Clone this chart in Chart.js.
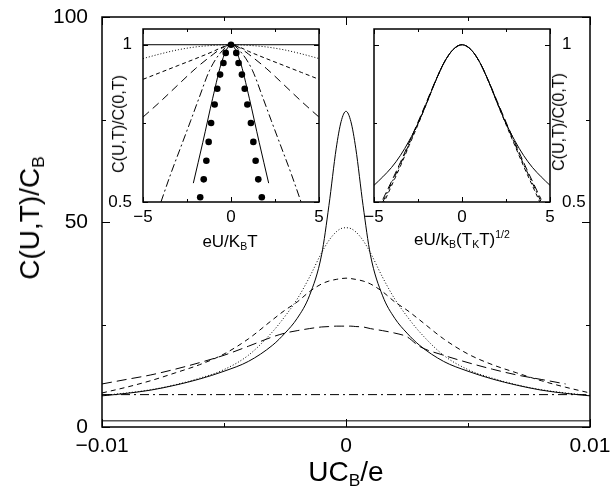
<!DOCTYPE html>
<html>
<head>
<meta charset="utf-8">
<script src="https://cdn.jsdelivr.net/npm/chart.js@4/dist/chart.umd.min.js"></script>
<style>
  body { margin: 0; background: #fff; }
  #wrap { position: relative; width: 611px; height: 493px; font-family: "Liberation Sans", Arial, sans-serif; color: #000; }
  canvas { position: absolute; }
  .lbl { position: absolute; white-space: nowrap; line-height: 1; transform: translate(-50%, -50%); }
  .rot { transform: translate(-50%, -50%) rotate(-90deg); }
  sub { font-size: 0.62em; vertical-align: -0.3em; line-height: 0; }
  sup { font-size: 0.62em; vertical-align: 0.6em; line-height: 0; }
</style>
</head>
<body>
<div id="wrap">
  <canvas id="mainChart" width="611" height="493" style="left:0;top:0"></canvas>
  <canvas id="insetLeft" width="230" height="215" style="left:100px;top:20px"></canvas>
  <canvas id="insetRight" width="240" height="215" style="left:365px;top:20px"></canvas>

  <div class="lbl rot" style="left:30px;top:218px;font-size:28px">C(U,T)/C<sub>B</sub></div>
  <div class="lbl" style="left:346px;top:472px;font-size:28px">UC<sub>B</sub>/e</div>
  <div class="lbl rot" style="left:119px;top:124px;font-size:16px">C(U,T)/C(0,T)</div>
  <div class="lbl" style="left:230px;top:241px;font-size:17px">eU/K<sub>B</sub>T</div>
  <div class="lbl rot" style="left:559px;top:122px;font-size:16px">C(U,T)/C(0,T)</div>
  <div class="lbl" style="left:462px;top:239px;font-size:17px">eU/k<sub>B</sub>(T<sub>K</sub>T)<sup>1/2</sup></div>
</div>
<script>
// main panel: bias values shared by the temperature curves
const biasGrid = [-0.01, -0.009, -0.008, -0.007, -0.006, -0.005, -0.004, -0.003, -0.0025, -0.002, -0.0015, -0.001, -0.0007, -0.0004, -0.0002, 0,
  0.0002, 0.0004, 0.0007, 0.001, 0.0015, 0.002, 0.0025, 0.003, 0.004, 0.005, 0.006, 0.007, 0.008, 0.009, 0.01];
const capSolid = [7.6, 8.2, 9.0, 10.2, 11.7, 13.6, 16, 20, 22.9, 26.5, 32, 42, 54, 68, 74.5, 77,
  74.5, 68, 54, 42, 32, 26.5, 22.9, 20, 16, 13.6, 11.7, 10.2, 9.0, 8.2, 7.6];
const capDotted = [7.7, 8.3, 9.1, 10.3, 11.9, 14, 17.5, 23.3, 27, 31.2, 36.5, 42.5, 45.5, 47.6, 48.4, 48.6,
  48.4, 47.6, 45.5, 42.5, 36.5, 31.2, 27, 23.3, 17.5, 14, 11.9, 10.3, 9.1, 8.3, 7.7];
const capShortDash = [8.3, 9.7, 11.3, 13.2, 15.2, 17.8, 21.5, 26.2, 28.5, 30.5, 33.0, 34.9, 35.6, 36.0, 36.2, 36.3,
  36.2, 36.0, 35.6, 34.9, 33.0, 30.5, 28.5, 26.2, 21.5, 17.8, 15.2, 13.2, 11.3, 9.7, 8.3];
const capLongDash = [10.5, 11.6, 12.7, 14.1, 15.7, 17.5, 19.7, 22.0, 22.9, 23.5, 24.0, 24.4, 24.5, 24.6, 24.6, 24.6,
  24.6, 24.5, 24.4, 24.0, 23.5, 22.9, 22.0, 19.7, 17.5, 15.7, 14.1, 12.7, 11.6, 10.5];
const flatBias = [-0.01, 0.01];
const capDashDot = [7.9, 7.9];
const capBase = [1.5, 1.5];
const mainXTicks = [-0.01, 0, 0.01];
const mainYTicks = [0, 50, 100];

// left inset: scaled by k_B T
const lFlatX = [-5, 5];
const lFlatY = [1, 1];
const lDotX = [-5, -4, -3, -2, -1, 0, 1, 2, 3, 4, 5];
const lDotY = [0.956, 0.971, 0.984, 0.993, 0.998, 1, 0.998, 0.993, 0.984, 0.971, 0.956];
const lShortX = [-5, -4, -3, -2, -1, -0.5, 0, 0.5, 1, 2, 3, 4, 5];
const lShortY = [0.89, 0.912, 0.934, 0.956, 0.979, 0.992, 1, 0.992, 0.979, 0.956, 0.934, 0.912, 0.89];
const lLongX = [-5, -4, -3, -2, -1, -0.5, 0, 0.5, 1, 2, 3, 4, 5];
const lLongY = [0.77, 0.82, 0.873, 0.925, 0.97, 0.99, 1, 0.99, 0.97, 0.925, 0.873, 0.82, 0.77];
const lDashDotX = [-3.98, -3.42, -2.85, -2.28, -1.8, -1.23, -0.66, 0, 0.66, 1.23, 1.8, 2.28, 2.85, 3.42, 3.98];
const lDashDotY = [0.5, 0.59, 0.675, 0.76, 0.833, 0.917, 0.97, 1, 0.97, 0.917, 0.833, 0.76, 0.675, 0.59, 0.5];
const lNarrowX = [-2.14, -1.6, -1.04, -0.5, 0, 0.5, 1.04, 1.6, 2.14];
const lNarrowY = [0.56, 0.69, 0.83, 0.95, 1, 0.95, 0.83, 0.69, 0.56];
const expX = [-1.75, -1.55, -1.40, -1.27, -1.13, -0.93, -0.78, -0.62, -0.43, -0.30, 0, 0.30, 0.43, 0.62, 0.78, 0.93, 1.13, 1.27, 1.40, 1.55, 1.75];
const expY = [0.515, 0.572, 0.631, 0.691, 0.751, 0.81, 0.86, 0.905, 0.942, 0.974, 1.0, 0.974, 0.942, 0.905, 0.86, 0.81, 0.751, 0.691, 0.631, 0.572, 0.515];

// right inset: scaled by k_B sqrt(T_K T)
const rSolidX = [-5, -4.5, -4, -3.5, -3, -2.5, -2, -1.5, -1, -0.5, 0, 0.5, 1, 1.5, 2, 2.5, 3, 3.5, 4, 4.5, 5];
const rSolidY = [0.553, 0.58, 0.61, 0.648, 0.695, 0.75, 0.815, 0.885, 0.945, 0.985, 1, 0.985, 0.945, 0.885, 0.815, 0.75, 0.695, 0.648, 0.61, 0.58, 0.553];
const rBundleX = [-4.5, -4, -3.5, -3, -2.5, -2, -1.5, -1, -0.5, 0, 0.5, 1, 1.5, 2, 2.5, 3, 3.5, 4, 4.5];
const rDashAY = [0.5, 0.56, 0.62, 0.685, 0.75, 0.818, 0.885, 0.945, 0.985, 1, 0.985, 0.945, 0.885, 0.818, 0.75, 0.685, 0.62, 0.56, 0.5];
const rDashBY = [0.49, 0.552, 0.614, 0.68, 0.746, 0.815, 0.884, 0.945, 0.985, 1, 0.985, 0.945, 0.884, 0.815, 0.746, 0.68, 0.614, 0.552, 0.49];
const rDashCY = [0.508, 0.566, 0.626, 0.69, 0.754, 0.82, 0.886, 0.945, 0.985, 1, 0.985, 0.945, 0.886, 0.82, 0.754, 0.69, 0.626, 0.566, 0.508];
const insetXTicks = [-5, 0, 5];
const insetYTicks = [0.5, 1];

const pts = (xs, ys) => xs.map((x, i) => ({ x: x, y: ys[i] }));
const minus = v => (v < 0 ? '\u2212' + Math.abs(v) : String(v));

Chart.defaults.color = '#000';
Chart.defaults.font.family = '"Liberation Sans", Arial, sans-serif';

// border box plus inward ticks on all four sides
const frameTicks = {
  id: 'frameTicks',
  afterDraw(chart, args, o) {
    const { ctx, chartArea: a, scales } = chart;
    const xs = scales.x, ys = scales.y;
    ctx.save();
    ctx.strokeStyle = '#000';
    ctx.lineWidth = o.lineWidth;
    ctx.strokeRect(a.left, a.top, a.right - a.left, a.bottom - a.top);
    ctx.lineWidth = 1;
    ctx.beginPath();
    const xMarks = (vals, len) => vals.forEach(v => {
      const p = Math.round(xs.getPixelForValue(v)) + 0.5;
      ctx.moveTo(p, a.bottom); ctx.lineTo(p, a.bottom - len);
      ctx.moveTo(p, a.top); ctx.lineTo(p, a.top + len);
    });
    const yMarks = (vals, len) => vals.forEach(v => {
      const p = Math.round(ys.getPixelForValue(v)) + 0.5;
      ctx.moveTo(a.left, p); ctx.lineTo(a.left + len, p);
      ctx.moveTo(a.right, p); ctx.lineTo(a.right - len, p);
    });
    xMarks(o.xMajor, o.major); xMarks(o.xMinor, o.minor);
    yMarks(o.yMajor, o.major); yMarks(o.yMinor, o.minor);
    ctx.stroke();
    ctx.restore();
  }
};

function line(data, dash, extra) {
  return Object.assign({
    data: data,
    borderColor: '#000',
    borderWidth: 1,
    borderDash: dash,
    pointRadius: 0,
    fill: false,
    cubicInterpolationMode: 'monotone'
  }, extra || {});
}

function axes(o) {
  return {
    x: {
      type: 'linear', min: o.xMin, max: o.xMax,
      grid: { display: false, drawTicks: false }, border: { display: false },
      afterBuildTicks: s => { s.ticks = o.xTicks.map(v => ({ value: v })); },
      // end labels may hang past the plot edge without shrinking it
      afterFit: s => { s.height = o.xHeight; s.paddingLeft = 0; s.paddingRight = 0; },
      ticks: { font: { size: o.font }, padding: o.xPad, maxRotation: 0, callback: minus }
    },
    y: {
      type: 'linear', min: o.yMin, max: o.yMax, position: o.yPos || 'left',
      grid: { display: false, drawTicks: false }, border: { display: false },
      afterBuildTicks: s => { s.ticks = o.yTicks.map(v => ({ value: v })); },
      afterFit: s => { s.width = o.yWidth; s.paddingTop = 0; s.paddingBottom = 0; },
      ticks: { font: { size: o.font }, padding: o.yPad, callback: v => String(v) }
    }
  };
}

const common = {
  responsive: false,
  animation: false,
  devicePixelRatio: 1,
  plugins: { legend: { display: false }, tooltip: { enabled: false } }
};

new Chart(document.getElementById('mainChart'), {
  type: 'line',
  plugins: [frameTicks],
  data: {
    datasets: [
      line(pts(biasGrid, capSolid), []),
      line(pts(biasGrid, capDotted), [1, 2]),
      line(pts(biasGrid, capShortDash), [5, 4]),
      line(pts(biasGrid, capLongDash), [10, 5]),
      line(pts(flatBias, capDashDot), [9, 4, 2, 4]),
      line(pts(flatBias, capBase), [])
    ]
  },
  options: Object.assign({}, common, {
    layout: { padding: { top: 17, right: 21, left: 0, bottom: 0 } },
    scales: axes({ xMin: -0.01, xMax: 0.01, yMin: 0, yMax: 100, xTicks: mainXTicks, yTicks: mainYTicks,
      font: 21, xHeight: 66, yWidth: 102, xPad: 7, yPad: 14 }),
    plugins: Object.assign({}, common.plugins, {
      frameTicks: { lineWidth: 1.5, major: 8, minor: 4, xMajor: mainXTicks, xMinor: [-0.005, 0.005], yMajor: mainYTicks, yMinor: [25, 75] }
    })
  })
});

new Chart(document.getElementById('insetLeft'), {
  type: 'line',
  plugins: [frameTicks],
  data: {
    datasets: [
      line(pts(lFlatX, lFlatY), []),
      line(pts(lDotX, lDotY), [1, 2]),
      line(pts(lShortX, lShortY), [4, 3]),
      line(pts(lLongX, lLongY), [8, 5]),
      line(pts(lDashDotX, lDashDotY), [8, 3, 2, 3]),
      line(pts(lNarrowX, lNarrowY), []),
      line(pts(expX, expY), [], { showLine: false, pointRadius: 3.3, pointBackgroundColor: '#000', pointBorderWidth: 0 })
    ]
  },
  options: Object.assign({}, common, {
    layout: { padding: { top: 9, right: 11, left: 0, bottom: 0 } },
    scales: axes({ xMin: -5, xMax: 5, yMin: 0.5, yMax: 1.05, xTicks: insetXTicks, yTicks: insetYTicks,
      font: 17, xHeight: 33, yWidth: 43, xPad: 5, yPad: 11 }),
    plugins: Object.assign({}, common.plugins, {
      frameTicks: { lineWidth: 1.5, major: 5, minor: 3, xMajor: insetXTicks, xMinor: [-2.5, 2.5], yMajor: insetYTicks, yMinor: [0.75] }
    })
  })
});

new Chart(document.getElementById('insetRight'), {
  type: 'line',
  plugins: [frameTicks],
  data: {
    datasets: [
      line(pts(rSolidX, rSolidY), []),
      line(pts(rBundleX, rDashAY), [6, 3, 2, 3]),
      line(pts(rBundleX, rDashBY), [4, 3]),
      line(pts(rBundleX, rDashCY), [8, 4])
    ]
  },
  options: Object.assign({}, common, {
    layout: { padding: { top: 9, right: 0, left: 9, bottom: 0 } },
    scales: axes({ xMin: -5, xMax: 5, yMin: 0.5, yMax: 1.05, xTicks: insetXTicks, yTicks: insetYTicks,
      font: 17, xHeight: 33, yWidth: 55, xPad: 5, yPad: 12, yPos: 'right' }),
    plugins: Object.assign({}, common.plugins, {
      frameTicks: { lineWidth: 1.5, major: 5, minor: 3, xMajor: insetXTicks, xMinor: [-2.5, 2.5], yMajor: insetYTicks, yMinor: [0.75] }
    })
  })
});
</script>
</body>
</html>
